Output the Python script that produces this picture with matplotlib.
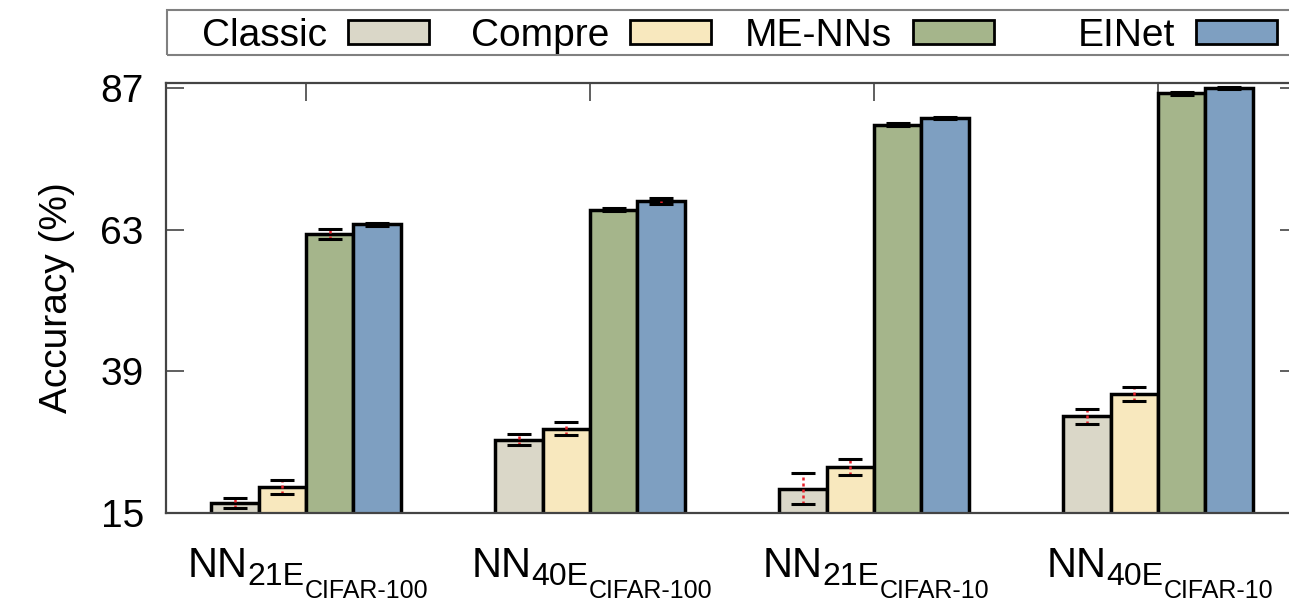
import numpy as np
import matplotlib
matplotlib.use("Agg")
import matplotlib.pyplot as plt
from matplotlib.patches import Rectangle

plt.rcParams["font.family"] = ["Liberation Sans", "DejaVu Sans"]

# data
groups_main = ["NN", "NN", "NN", "NN"]
groups_sub = ["21E", "40E", "21E", "40E"]
groups_subsub = ["CIFAR-100", "CIFAR-100", "CIFAR-10", "CIFAR-10"]
methods = ["Classic", "Compre", "ME-NNs", "EINet"]
colors = ["#dad7c8", "#f8e8be", "#a5b58b", "#7e9fc1"]

classic = [16.7, 27.4, 19.1, 31.4]
classic_err = [0.9, 0.9, 2.6, 1.3]
compre = [19.4, 29.3, 22.8, 35.2]
compre_err = [1.2, 1.1, 1.4, 1.2]
me_nns = [62.3, 66.4, 80.8, 86.1]
me_nns_err = [0.8, 0.2, 0.3, 0.2]
einet = [63.9, 67.9, 81.9, 87.0]
einet_err = [0.3, 0.5, 0.2, 0.2]

yticks = [15, 39, 63, 87]

W, H = 1289, 601
fig = plt.figure(figsize=(W / 100, H / 100), dpi=100)
# axes runs past the right edge like in the cropped original
ax = fig.add_axes([166 / W, 1 - 513 / H, (1298 - 166) / W, (513 - 83) / H])

x = np.arange(len(groups_main))
bw = 1 / 6
series = [classic, compre, me_nns, einet]
errs = [classic_err, compre_err, me_nns_err, einet_err]
for i, (vals, err) in enumerate(zip(series, errs)):
    pos = x + (i - 1.5) * bw
    ax.bar(pos, vals, bw, color=colors[i], edgecolor="black", linewidth=2.5, zorder=2)
    eb = ax.errorbar(pos, vals, yerr=err, fmt="none", ecolor="#e8202a",
                     elinewidth=1.8, capsize=8.5, capthick=2.2, zorder=3)
    eb[2][0].set_linestyle((0, (1.2, 1.2)))
    for cap in eb[1]:
        cap.set_color("black")
        cap.set_markeredgecolor("black")
        cap.set_markerfacecolor("black")

ax.set_xlim(-0.493, 3.493)
ax.set_ylim(15, 87.85)
ax.set_yticks(yticks)
ax.set_yticklabels([str(v) for v in yticks])
ax.set_xticks(x)
ax.set_xticklabels([])
ax.tick_params(axis="y", direction="in", length=13, width=1.2, labelsize=28,
               pad=16, right=True, colors="#444444", labelcolor="black")
ax.tick_params(axis="x", direction="in", length=13, width=1.2, top=True,
               bottom=False, colors="#444444")
for s in ax.spines.values():
    s.set_color("#444444")
    s.set_linewidth(1.6)

ax.set_ylabel("Accuracy (%)", fontsize=28, labelpad=18)

# composite x tick labels: NN_{21E_{CIFAR-100}}
sizes = [30, 23, 18]
dys = [-64, -72, -85]  # baseline offsets in px below the axis
parts_all = []
for i in range(len(x)):
    parts = []
    for txt, fs in zip([groups_main[i], groups_sub[i], groups_subsub[i]], sizes):
        t = ax.annotate(txt, xy=(x[i], 0), xycoords=("data", "axes fraction"),
                        xytext=(0, 0), textcoords="offset points",
                        ha="left", va="baseline", fontsize=fs)
        parts.append(t)
    parts_all.append(parts)

fig.canvas.draw()
r = fig.canvas.get_renderer()
k = 72 / fig.dpi
for parts in parts_all:
    ws = [t.get_window_extent(r).width for t in parts]
    x0 = -sum(ws) / 2 + 2
    for t, w, dy in zip(parts, ws, dys):
        t.xyann = (x0 * k, dy * k)
        x0 += w

# legend box drawn like the gnuplot key: text then sample
fig.patches.append(Rectangle((167 / W, 1 - 55 / H), (1300 - 167) / W, 45 / H,
                             transform=fig.transFigure, fill=False,
                             edgecolor="#808080", linewidth=1.5))
sw_left = [348, 630, 913, 1196]
for name, c, sl in zip(methods, colors, sw_left):
    fig.patches.append(Rectangle((sl / W, 1 - 44 / H), 81 / W, 24 / H,
                                 transform=fig.transFigure, facecolor=c,
                                 edgecolor="black", linewidth=2))
    fig.text((sl - 21) / W, 1 - 46 / H, name, ha="right", va="baseline",
             fontsize=28)

fig.savefig("out.png", dpi=100)
